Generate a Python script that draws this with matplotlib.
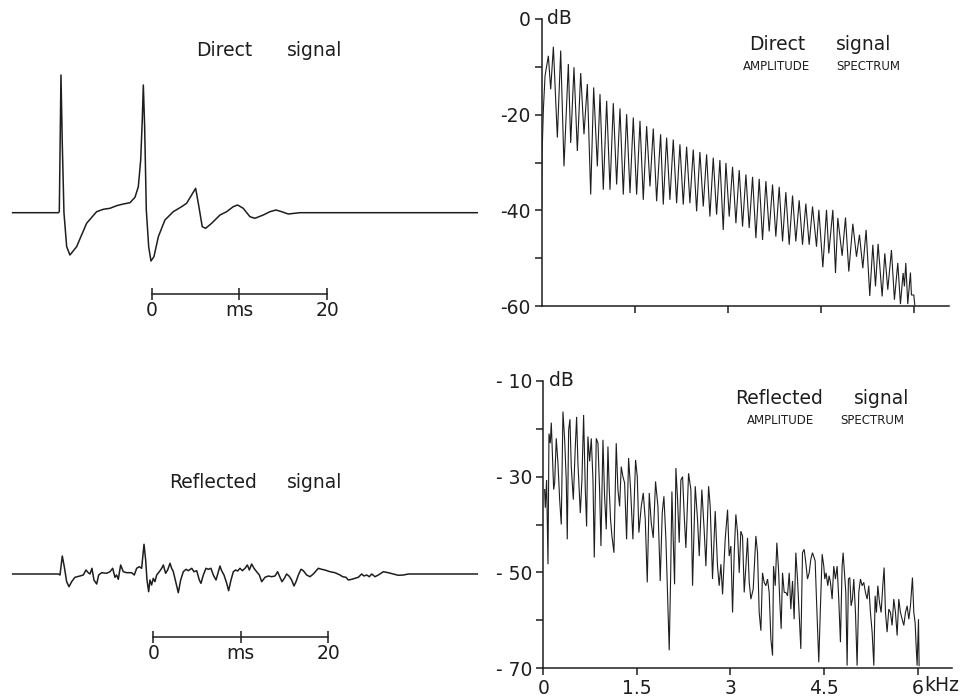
import numpy as np
import matplotlib.pyplot as plt

# time signals: (ms, amplitude)
direct_wave = [
    (-15.84, 0), (-10.63, 0), (-10.52, 1), (-10.33, 137.7), (-10.18, 69), (-9.99, 0),
    (-9.68, -34), (-9.31, -42.3), (-8.55, -34), (-7.41, -10.6), (-6.27, 1), (-5.51, 3.4),
    (-4.75, 4.4), (-3.99, 7), (-3.23, 8.7), (-2.47, 10), (-1.90, 15.4), (-1.52, 26),
    (-1.25, 52.7), (-1.07, 92.7), (-0.95, 127.7), (-0.80, 86), (-0.61, 2.7), (-0.34, -34),
    (-0.08, -48.3), (0.26, -44), (0.76, -24), (1.51, -7.3), (2.46, 1), (3.41, 6),
    (3.98, 9.4), (4.55, 17.7), (5.01, 24.4), (5.38, 6), (5.76, -14), (6.15, -15.6),
    (6.83, -10.6), (7.78, -2.3), (8.54, 1), (9.29, 6), (9.79, 7.7), (10.43, 4.4),
    (11.19, -4), (11.76, -5.6), (12.71, -2.3), (13.47, 1), (14.16, 2.7), (14.81, 1),
    (15.56, -1.3), (16.89, 0), (37.08, 0),
]

reflected_wave = [
    (-16.07, 0), (-10.85, 0), (-10.66, -1), (-10.40, 18), (-10.17, 7.3), (-9.90, -7.7),
    (-9.63, -12.7), (-9.33, -7.7), (-8.95, -3.3), (-8.38, -2), (-8.00, -1), (-7.69, 4),
    (-7.43, 1.3), (-7.23, 0), (-7.01, 5.7), (-6.78, -6), (-6.47, -10), (-6.24, -1),
    (-5.90, 1.3), (-5.33, 0.7), (-4.95, 2.3), (-4.64, 5.7), (-4.38, -3.3), (-4.19, -1),
    (-4.00, -5.3), (-3.73, 9), (-3.43, 2.3), (-3.04, 1.3), (-2.47, 1.3), (-2.17, -1),
    (-1.90, 5.7), (-1.60, 7.3), (-1.33, 5.7), (-1.06, 29.7), (-0.87, 14), (-0.72, -6),
    (-0.53, -17.7), (-0.38, -6), (-0.19, -11), (0.00, -4.3), (0.19, -7.7), (0.39, -1),
    (0.69, 2.3), (0.96, 5.7), (1.15, 9), (1.41, 0.7), (1.64, 4), (1.91, 10.7),
    (2.10, 5.7), (2.29, 2.3), (2.56, -7.7), (2.86, -18.7), (3.13, -6), (3.43, 2.3),
    (3.74, 4.7), (4.00, 3.3), (4.39, 5.7), (4.65, 2.3), (4.96, 3.3), (5.26, -6),
    (5.45, -9.3), (5.72, -1), (6.02, 5.7), (6.29, 4.7), (6.59, 5.7), (6.86, -1),
    (7.17, -6), (7.43, 2.3), (7.62, 8), (7.81, 3.3), (8.08, -1), (8.39, -9.3),
    (8.61, -16.7), (8.88, -6), (9.15, 2.3), (9.41, 4), (9.64, 3), (9.91, 5.7),
    (10.18, 3.3), (10.48, 5.7), (10.75, 9), (10.98, 4), (11.24, 10), (11.51, 5.7),
    (11.81, 2.3), (12.12, -1), (12.39, -7.7), (12.77, -3.3), (13.15, -2), (13.53, -2.7),
    (13.91, -2), (14.21, 2.3), (14.48, -3.3), (14.71, -7.7), (14.98, -4.3), (15.24, 0),
    (15.51, -2), (15.81, -6), (16.08, -12), (16.31, -7.7), (16.58, -1), (16.88, 4.7),
    (17.15, 3.3), (17.53, -1), (17.91, -2.7), (18.29, 0), (18.86, 5.7), (19.24, 4.7),
    (19.62, 4), (20.19, 2.3), (20.77, 1.3), (21.34, -1), (21.64, -2.7), (22.02, -3.3),
    (22.29, -6), (22.67, -5.3), (23.05, -4.3), (23.43, -3.3), (23.81, 0), (24.08, -2),
    (24.39, -1), (24.69, -2.7), (24.96, 0), (25.34, -2.7), (25.72, -1), (26.29, 2.3),
    (26.86, 1.3), (27.43, 0), (28.00, -1.3), (28.58, -1), (29.15, 0), (37.03, 0),
]

# amplitude spectra: (kHz, dB)
direct_spec = [
    (0.000, -39.2), (0.005, -28.7), (0.027, -18.9), (0.054, -11.9), (0.107, -7.7), (0.145, -14.7),
    (0.188, -5.8), (0.252, -24.8), (0.306, -6.6), (0.359, -30.8), (0.429, -9.4), (0.467, -25.9),
    (0.520, -10.1), (0.574, -27.6), (0.628, -11.3), (0.681, -24.1), (0.735, -13.6), (0.789, -36.7),
    (0.837, -14.3), (0.896, -30.8), (0.939, -15.7), (0.992, -35.7), (1.046, -17.1), (1.100, -35.7),
    (1.153, -17.6), (1.207, -34.6), (1.261, -18.7), (1.314, -36.7), (1.368, -19.9), (1.422, -36.4),
    (1.475, -20.6), (1.529, -36.7), (1.583, -21.3), (1.636, -37.8), (1.690, -22.4), (1.744, -35.0),
    (1.797, -22.9), (1.851, -38.1), (1.915, -24.1), (1.958, -38.8), (2.012, -24.8), (2.065, -37.8),
    (2.119, -25.2), (2.173, -38.5), (2.226, -26.2), (2.280, -38.8), (2.334, -26.7), (2.387, -38.5),
    (2.441, -27.3), (2.495, -40.2), (2.548, -27.8), (2.602, -39.2), (2.656, -28.3), (2.709, -41.3),
    (2.763, -29.0), (2.817, -40.9), (2.870, -29.5), (2.924, -44.1), (2.967, -30.1), (3.020, -41.3),
    (3.074, -30.9), (3.128, -42.7), (3.181, -31.6), (3.235, -43.4), (3.289, -32.5), (3.342, -43.7),
    (3.396, -33.0), (3.450, -45.8), (3.503, -33.4), (3.557, -46.2), (3.611, -33.9), (3.664, -44.4),
    (3.718, -34.6), (3.771, -45.5), (3.825, -35.1), (3.879, -46.5), (3.932, -36.2), (3.986, -47.2),
    (4.040, -36.9), (4.093, -46.5), (4.147, -37.9), (4.201, -47.2), (4.254, -38.6), (4.308, -47.2),
    (4.362, -39.2), (4.426, -47.6), (4.464, -39.9), (4.528, -51.9), (4.587, -39.9), (4.624, -49.0),
    (4.689, -39.9), (4.732, -53.1), (4.769, -41.6), (4.839, -49.5), (4.893, -41.5), (4.946, -52.8),
    (5.011, -42.8), (5.070, -49.7), (5.118, -45.1), (5.172, -52.1), (5.225, -44.1), (5.284, -57.9),
    (5.333, -47.2), (5.376, -55.9), (5.418, -47.0), (5.483, -58.0), (5.526, -49.0), (5.574, -56.6),
    (5.633, -48.3), (5.681, -58.7), (5.735, -51.0), (5.778, -59.6), (5.821, -53.1), (5.842, -55.9),
    (5.864, -51.0), (5.896, -59.6), (5.939, -53.0), (5.955, -57.7), (5.993, -57.7), (6.009, -59.8),
]

reflected_spec = [
    (0.021, -32.7), (0.032, -36.5), (0.053, -30.7), (0.075, -48.3), (0.091, -21.0), (0.112, -23.0),
    (0.128, -18.7), (0.149, -26.5), (0.166, -32.7), (0.182, -31.3), (0.208, -22.0), (0.235, -27.2),
    (0.262, -34.8), (0.288, -40.0), (0.315, -16.4), (0.342, -22.3), (0.368, -30.7), (0.384, -43.1),
    (0.406, -20.3), (0.427, -18.0), (0.448, -27.9), (0.481, -34.8), (0.513, -23.7), (0.534, -17.5),
    (0.555, -27.2), (0.593, -37.6), (0.619, -30.7), (0.646, -17.1), (0.673, -32.7), (0.694, -40.4),
    (0.715, -21.6), (0.742, -26.8), (0.769, -22.0), (0.796, -30.7), (0.817, -46.9), (0.849, -22.0),
    (0.876, -23.0), (0.902, -32.7), (0.924, -44.5), (0.956, -22.3), (0.982, -34.1), (1.009, -41.0),
    (1.036, -23.7), (1.057, -32.7), (1.078, -39.0), (1.100, -42.4), (1.132, -45.9), (1.169, -23.0),
    (1.196, -32.7), (1.223, -36.2), (1.249, -27.9), (1.276, -30.0), (1.303, -31.3), (1.335, -43.1),
    (1.367, -26.1), (1.399, -32.7), (1.436, -43.1), (1.479, -26.5), (1.506, -30.0), (1.532, -41.7),
    (1.570, -36.2), (1.602, -33.4), (1.634, -39.0), (1.666, -52.1), (1.698, -33.4), (1.730, -39.7),
    (1.762, -42.8), (1.799, -31.0), (1.837, -36.2), (1.874, -51.8), (1.906, -37.6), (1.933, -34.1),
    (1.965, -43.1), (1.997, -57.0), (2.018, -66.3), (2.040, -51.4), (2.061, -33.1), (2.082, -43.1),
    (2.104, -52.5), (2.125, -28.2), (2.152, -34.8), (2.178, -43.8), (2.205, -30.7), (2.232, -30.0),
    (2.259, -38.3), (2.285, -44.9), (2.328, -29.3), (2.365, -32.7), (2.392, -52.8), (2.435, -32.0),
    (2.472, -39.0), (2.499, -46.6), (2.541, -32.7), (2.579, -41.4), (2.606, -48.7), (2.649, -32.0),
    (2.675, -36.2), (2.712, -51.4), (2.755, -37.2), (2.792, -48.7), (2.819, -52.8), (2.846, -48.3),
    (2.873, -54.6), (2.915, -43.1), (2.953, -36.9), (2.979, -46.6), (3.006, -44.5), (3.033, -58.4),
    (3.060, -45.9), (3.086, -37.9), (3.113, -41.7), (3.140, -50.1), (3.166, -41.4), (3.193, -42.4),
    (3.220, -54.2), (3.247, -48.7), (3.273, -42.8), (3.300, -52.1), (3.327, -55.6), (3.364, -53.5),
    (3.407, -42.4), (3.433, -45.9), (3.460, -58.4), (3.487, -62.2), (3.513, -50.1), (3.540, -52.1),
    (3.567, -52.8), (3.594, -51.4), (3.620, -54.2), (3.647, -63.9), (3.674, -67.4), (3.690, -48.7),
    (3.717, -52.8), (3.743, -43.8), (3.770, -49.4), (3.791, -56.3), (3.812, -61.8), (3.834, -50.1),
    (3.861, -54.2), (3.887, -54.2), (3.914, -54.9), (3.941, -50.1), (3.967, -57.7), (3.994, -51.8),
    (4.020, -59.8), (4.047, -45.9), (4.074, -51.4), (4.100, -58.4), (4.127, -66.0), (4.154, -45.9),
    (4.181, -45.2), (4.207, -48.0), (4.234, -51.4), (4.261, -50.1), (4.287, -47.3), (4.314, -45.9),
    (4.357, -47.6), (4.378, -55.6), (4.415, -68.8), (4.442, -57.0), (4.469, -46.2), (4.495, -48.7),
    (4.511, -51.4), (4.532, -50.1), (4.559, -52.8), (4.581, -50.7), (4.602, -52.1), (4.629, -55.6),
    (4.655, -48.7), (4.682, -51.4), (4.709, -48.7), (4.735, -55.6), (4.762, -64.6), (4.789, -48.7),
    (4.805, -45.9), (4.826, -50.1), (4.848, -54.2), (4.869, -69.5), (4.890, -51.4), (4.912, -51.1),
    (4.933, -57.0), (4.954, -55.6), (4.976, -51.4), (5.003, -58.4), (5.029, -69.5), (5.056, -54.2),
    (5.083, -51.4), (5.110, -52.8), (5.136, -52.1), (5.163, -54.2), (5.190, -55.6), (5.216, -52.8),
    (5.243, -58.4), (5.270, -62.5), (5.297, -69.5), (5.318, -54.9), (5.339, -58.4), (5.361, -52.8),
    (5.388, -56.3), (5.414, -58.4), (5.441, -52.8), (5.462, -49.0), (5.484, -58.4), (5.510, -62.5),
    (5.537, -57.7), (5.564, -58.4), (5.590, -61.1), (5.617, -55.6), (5.644, -58.4), (5.671, -63.2),
    (5.697, -55.6), (5.724, -58.4), (5.751, -59.8), (5.778, -61.1), (5.804, -58.4), (5.831, -57.0),
    (5.858, -59.8), (5.884, -57.0), (5.916, -51.1), (5.938, -58.4), (5.959, -60.5), (5.975, -65.3),
    (5.991, -69.5), (6.013, -59.8), (6.023, -69.5),
]

scale_ticks = [0, 10, 20]
scale_labels = ['0', 'ms', '20']
freq_ticks = [0, 1.5, 3, 4.5, 6]
freq_labels = ['0', '1.5', '3', '4.5', '6']

ink = '#1e1e1e'
plt.rcParams['font.family'] = 'DejaVu Sans'
plt.rcParams['text.color'] = ink
plt.rcParams['xtick.color'] = ink
plt.rcParams['ytick.color'] = ink
plt.rcParams['axes.edgecolor'] = ink

W, H = 969, 698
fig = plt.figure(figsize=(W / 100, H / 100), dpi=100)


def px_axes(left, top, right, bottom):
    ax = fig.add_axes([left / W, 1 - bottom / H, (right - left) / W, (bottom - top) / H])
    ax.patch.set_alpha(0)
    return ax


def wave_panel(data, box, ylim, bar_y):
    left, top, right, bottom = box
    ax = px_axes(left, top, right, bottom)
    t, a = np.array(data).T
    ax.plot(t, a, color=ink, lw=1.1, solid_joinstyle='round')
    ax.set_xlim(-16.5, 38)
    ax.set_ylim(*ylim)
    ax.axis('off')
    # ms scale bar below the trace
    sb = px_axes(left, bar_y - 4, right, bar_y)
    sb.set_xlim(-16.5, 38)
    for s in ['top', 'left', 'right']:
        sb.spines[s].set_visible(False)
    sb.spines['bottom'].set_bounds(0, 20)
    sb.spines['bottom'].set_linewidth(1.1)
    sb.set_yticks([])
    sb.set_xticks(scale_ticks)
    sb.set_xticklabels(scale_labels)
    sb.tick_params(axis='x', direction='inout', length=8, width=1.1, pad=1, labelsize=13.5)
    return ax


def spec_panel(data, box, xmax, ylim, yticks, ylabels, yminor):
    left, top, right, bottom = box
    ax = px_axes(left, top, right, bottom)
    f, db = np.array(data).T
    ax.plot(f, db, color=ink, lw=0.8, solid_joinstyle='miter')
    ax.set_xlim(0, xmax)
    ax.set_ylim(*ylim)
    for s in ['top', 'right']:
        ax.spines[s].set_visible(False)
    for s in ['left', 'bottom']:
        ax.spines[s].set_linewidth(1.1)
    ax.set_yticks(yticks)
    ax.set_yticklabels(ylabels)
    ax.set_yticks(yminor, minor=True)
    ax.tick_params(axis='y', which='both', direction='out', length=5, width=1.1, pad=3, labelsize=13.5)
    ax.tick_params(axis='x', direction='out', length=5, width=1.1, pad=3, labelsize=13.5)
    ax.annotate('dB', xy=(0, 1), xycoords='axes fraction', xytext=(4, 0),
                textcoords='offset points', ha='left', va='center', fontsize=13.5)
    return ax


wave_panel(direct_wave, (6.8, 67.7, 485.3, 272.7), (-60, 145), 294)
wave_panel(reflected_wave, (8.9, 534, 485.8, 604), (-30, 40), 637)

ax1 = spec_panel(direct_spec, (541.7, 19, 949, 306), 6.56, (-60, 0),
                 [-60, -40, -20, 0], ['-60', '-40', '-20', '0'], [-50, -30, -10])
ax1.set_xticks(freq_ticks[1:])
ax1.set_xticklabels([])

ax2 = spec_panel(reflected_spec, (543.3, 381, 952, 668), 6.55, (-70, -10),
                 [-70, -50, -30, -10], ['- 70', '- 50', '- 30', '- 10'], [-60, -40, -20])
ax2.set_xticks(freq_ticks)
ax2.set_xticklabels(freq_labels)
ax2.annotate('kHz', xy=(6, 0), xycoords=('data', 'axes fraction'), xytext=(5, -6),
             textcoords='offset points', ha='left', va='top', fontsize=13.5)


def label(x, y, s, size=13.5):
    fig.text(x / W, 1 - y / H, s, ha='center', va='center', fontsize=size)


label(224, 50, 'Direct')
label(315, 50, 'signal')
label(213, 483, 'Reflected')
label(315, 483, 'signal')
label(777, 45, 'Direct')
label(864, 45, 'signal')
label(777, 67, 'AMPLITUDE', 8.5)
label(868, 67, 'SPECTRUM', 8.5)
label(779, 399, 'Reflected')
label(882, 399, 'signal')
label(781, 420, 'AMPLITUDE', 8.5)
label(872, 420, 'SPECTRUM', 8.5)

fig.savefig('out.png', dpi=100, facecolor='white')
